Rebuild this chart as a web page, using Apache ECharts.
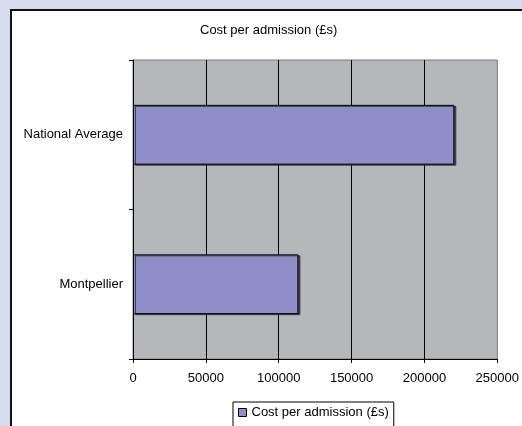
<!DOCTYPE html>
<html>
<head>
<meta charset="utf-8">
<script src="https://cdn.jsdelivr.net/npm/echarts@6/dist/echarts.min.js"></script>
<style>
html,body{margin:0;padding:0;width:522px;height:426px;overflow:hidden;background:#d3dbed;}
#frame{position:absolute;left:10px;top:9px;width:600px;height:500px;background:#fff;border-left:2px solid #111;border-top:2px solid #111;}
#chart{position:absolute;left:0;top:0;width:522px;height:426px;}
</style>
</head>
<body>
<div id="frame"></div>
<div id="chart"></div>
<script>
var categories = ['National Average', 'Montpellier'];
var costValues = [220500, 113500];
var seriesName = 'Cost per admission (£s)';
var titleText = 'Cost per admission (£s)';

var chart = echarts.init(document.getElementById('chart'), null, {renderer: 'canvas'});
var font = 'Liberation Sans, Arial, sans-serif';
chart.setOption({
  backgroundColor: 'transparent',
  animation: false,
  textStyle: {fontFamily: font},
  title: {
    text: titleText,
    left: 200,
    top: 24,
    padding: 0,
    textStyle: {fontSize: 13, fontWeight: 'normal', color: '#000', fontFamily: font}
  },
  legend: {
    data: [seriesName],
    left: 233,
    top: 402,
    orient: 'horizontal',
    backgroundColor: '#fff',
    borderColor: '#000',
    borderWidth: 1,
    borderRadius: 0,
    padding: [4, 5, 20, 5],
    itemWidth: 8,
    itemHeight: 8,
    itemGap: 4,
    icon: 'rect',
    itemStyle: {borderColor: '#000', borderWidth: 1},
    textStyle: {fontSize: 13, color: '#000', fontFamily: font}
  },
  grid: {
    left: 133, top: 60, right: 24, bottom: 67,
    show: true,
    backgroundColor: '#b4b8bb',
    borderColor: '#7a7a7a',
    borderWidth: 1,
    containLabel: false
  },
  xAxis: {
    type: 'value',
    min: 0,
    max: 250000,
    interval: 50000,
    axisLine: {show: true, lineStyle: {color: '#000', width: 1}},
    axisTick: {show: true, length: 4, lineStyle: {color: '#000'}},
    axisLabel: {fontSize: 13, color: '#000', margin: 13, fontFamily: font,
      formatter: function (v) { return String(v); }},
    splitLine: {show: true, showMaxLine: false, lineStyle: {color: '#000', width: 1}}
  },
  yAxis: {
    type: 'category',
    data: categories,
    inverse: true,
    axisLine: {show: true, lineStyle: {color: '#000', width: 1}},
    axisTick: {show: true, length: 4, lineStyle: {color: '#000'}},
    axisLabel: {fontSize: 13, color: '#000', margin: 10, fontFamily: font},
    splitLine: {show: false}
  },
  series: [{
    name: seriesName,
    type: 'bar',
    data: costValues,
    barWidth: '40%',
    itemStyle: {
      color: '#8f8fc8',
      borderColor: '#000',
      borderWidth: 1,
      shadowColor: 'rgba(40,40,60,0.8)',
      shadowOffsetX: 2,
      shadowOffsetY: 1,
      shadowBlur: 0
    }
  }]
});
</script>
</body>
</html>
